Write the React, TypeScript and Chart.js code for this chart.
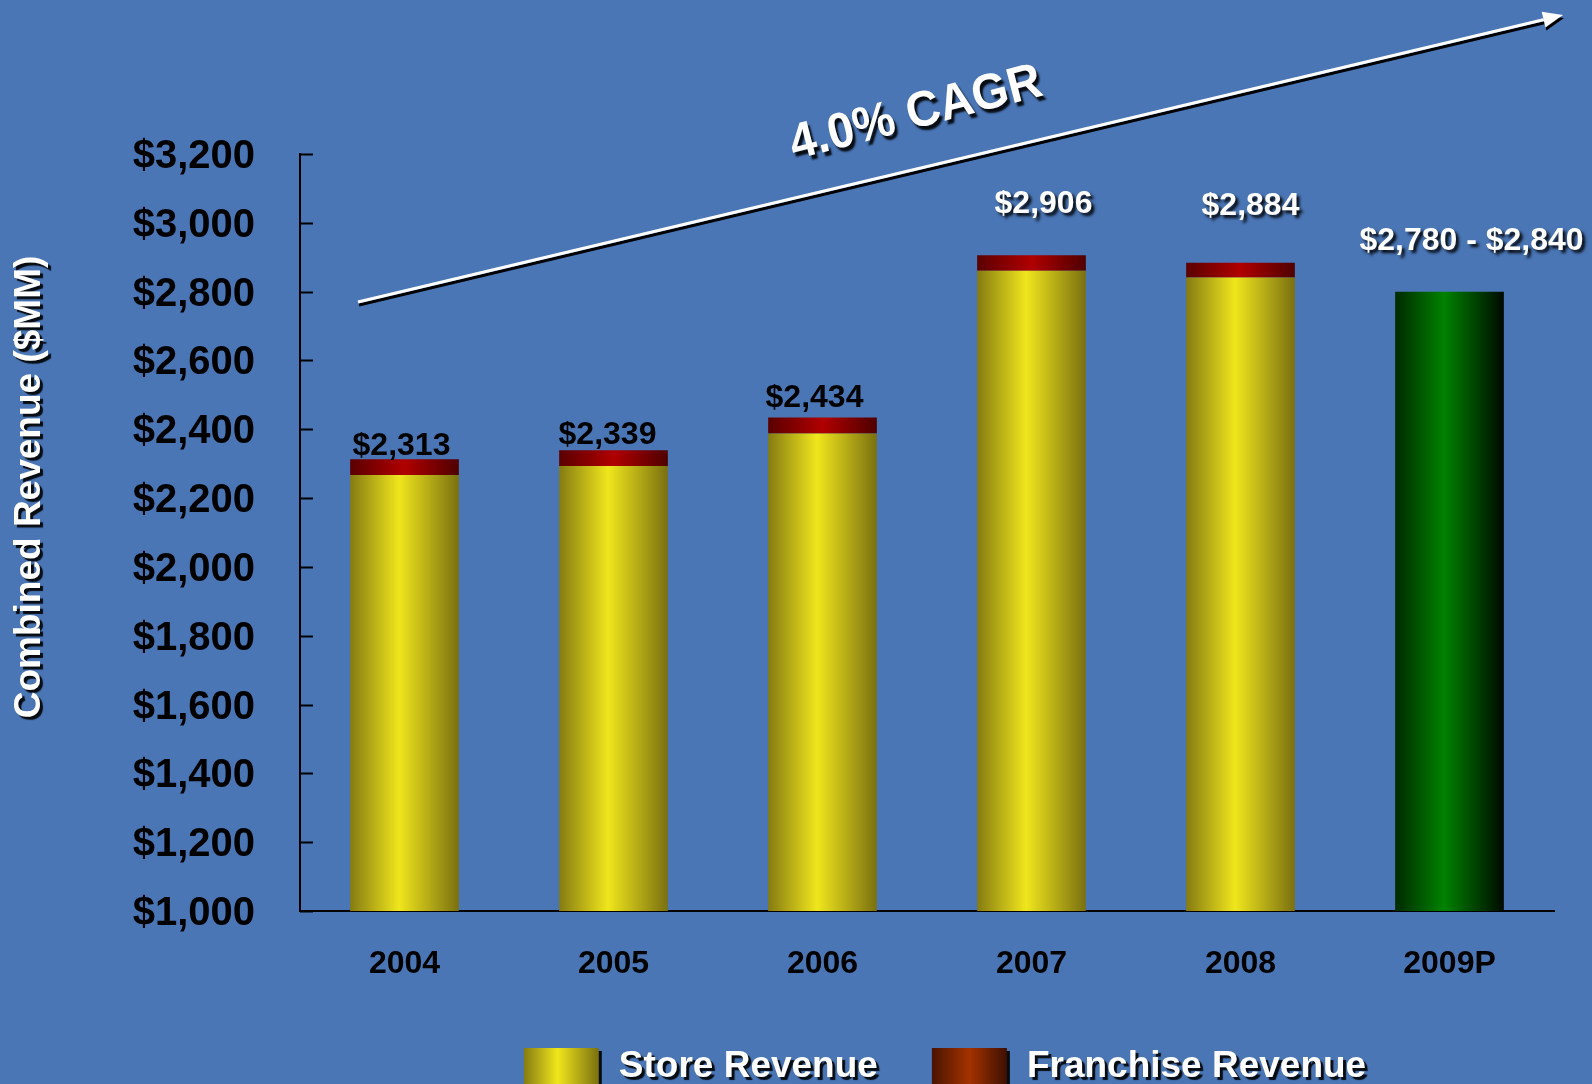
import { useEffect, useRef } from "react";
import { Chart, registerables } from "chart.js";

Chart.register(...registerables);

// ---- data ----
const categories = ["2004", "2005", "2006", "2007", "2008", "2009P"];
const storeRevenue = [2267, 2293, 2388, 2861, 2841, null];
const franchiseRevenue = [46, 46, 46, 45, 43, null];
const projectedRevenue = [null, null, null, null, null, 2800];
const totalLabels = ["$2,313", "$2,339", "$2,434", "$2,906", "$2,884", "$2,780 - $2,840"];
const yMin = 1000;
const yMax = 3200;
const yStep = 200;
const seriesNames = ["Store Revenue", "Franchise Revenue", "2009P Projection"];
const yTitle = "Combined Revenue ($MM)";
const cagrText = "4.0% CAGR";

// ---- styles ----
const FONT = "'Liberation Sans', Arial, Helvetica, sans-serif";
const BG = "#4a76b6";
const labelDx = [-3, -6, -8, 12, 10, 22];
const labelGap = [4, 6, 11, 42, 48, 42];
const labelWhite = [false, false, false, true, true, true];
const BAR_PCT = 0.52;

const yellowStops: [number, string][] = [[0, "#857b12"], [0.45, "#f0e61c"], [1, "#7a7010"]];
const redStops: [number, string][] = [[0, "#5a0000"], [0.5, "#b00000"], [1, "#4e0000"]];
const greenStops: [number, string][] = [[0, "#002a00"], [0.45, "#008200"], [1, "#000a00"]];
const legendFranchiseStops: [number, string][] = [[0, "#4a1400"], [0.5, "#a33200"], [1, "#3e1000"]];

function barGradient(stops: [number, string][]) {
  return (ctx: any) => {
    const chart = ctx.chart;
    const xs = chart.scales && chart.scales.x;
    if (!xs || ctx.type !== "data" || !chart.chartArea) return stops[1][1];
    const cx = xs.getPixelForValue(ctx.dataIndex);
    const w = (xs.width / categories.length) * BAR_PCT;
    const g = chart.ctx.createLinearGradient(cx - w / 2, 0, cx + w / 2, 0);
    stops.forEach(([o, c]) => g.addColorStop(o, c));
    return g;
  };
}

function shadowed(c: CanvasRenderingContext2D, draw: () => void, ox = 3, oy = 3, blur = 2, alpha = 0.9) {
  c.save();
  c.shadowColor = `rgba(0,0,0,${alpha})`;
  c.shadowOffsetX = ox;
  c.shadowOffsetY = oy;
  c.shadowBlur = blur;
  draw();
  c.restore();
}

const innerTicksPlugin = {
  id: "innerTicks",
  afterDraw(chart: any) {
    const c = chart.ctx as CanvasRenderingContext2D;
    const ys = chart.scales.y;
    const left = chart.chartArea.left;
    c.save();
    c.strokeStyle = "#000";
    c.lineWidth = 2;
    ys.ticks.forEach((_t: any, i: number) => {
      const y = Math.round(ys.getPixelForTick(i)) + 0.5;
      c.beginPath();
      c.moveTo(left, y);
      c.lineTo(left + 13, y);
      c.stroke();
    });
    c.restore();
  },
};

const decorPlugin = {
  id: "decor",
  afterDraw(chart: any) {
    const c = chart.ctx as CanvasRenderingContext2D;
    const { left, right, top } = chart.chartArea;
    const xs = chart.scales.x;
    const ys = chart.scales.y;

    // value labels
    c.save();
    c.font = `bold 32px ${FONT}`;
    c.textAlign = "center";
    c.textBaseline = "alphabetic";
    categories.forEach((_cat, i) => {
      const total =
        projectedRevenue[i] != null
          ? (projectedRevenue[i] as number)
          : (storeRevenue[i] as number) + (franchiseRevenue[i] as number);
      const x = xs.getPixelForValue(i) + labelDx[i];
      const y = ys.getPixelForValue(total) - labelGap[i];
      if (labelWhite[i]) {
        shadowed(c, () => {
          c.fillStyle = "#ffffff";
          c.fillText(totalLabels[i], x, y);
        }, 3, 3, 3);
      } else {
        c.fillStyle = "#000000";
        c.fillText(totalLabels[i], x, y);
      }
    });
    c.restore();

    // y-axis title
    c.save();
    c.font = `bold 37px ${FONT}`;
    c.textAlign = "center";
    c.textBaseline = "middle";
    shadowed(c, () => {
      c.translate(30, top + 333);
      c.rotate(-Math.PI / 2);
      c.fillStyle = "#ffffff";
      c.fillText(yTitle, 0, 0);
    }, 3, 3, 1);
    c.restore();

    // CAGR arrow
    const sx = left + 58, sy = top + 148;
    const ex = right + 9, ey = top - 139;
    const ang = Math.atan2(ey - sy, ex - sx);
    const headLen = 20, headW = 8;
    const bx = ex - headLen * Math.cos(ang), by = ey - headLen * Math.sin(ang);
    shadowed(c, () => {
      c.strokeStyle = "#ffffff";
      c.fillStyle = "#ffffff";
      c.lineWidth = 3;
      c.beginPath();
      c.moveTo(sx, sy);
      c.lineTo(bx + 2 * Math.cos(ang), by + 2 * Math.sin(ang));
      c.stroke();
      c.beginPath();
      c.moveTo(ex, ey);
      c.lineTo(bx + headW * Math.sin(ang), by - headW * Math.cos(ang));
      c.lineTo(bx - headW * Math.sin(ang), by + headW * Math.cos(ang));
      c.closePath();
      c.fill();
    }, 1, 3, 0, 1);

    // CAGR text
    c.save();
    c.font = `bold 50px ${FONT}`;
    c.textAlign = "center";
    c.textBaseline = "middle";
    shadowed(c, () => {
      c.translate(left + 616, top - 40);
      c.rotate(ang - 0.02);
      c.scale(0.94, 1);
      c.fillStyle = "#ffffff";
      c.fillText(cagrText, 0, 0);
    }, 3, 4, 2);
    c.restore();

    // legend
    c.save();
    c.font = `bold 37px ${FONT}`;
    c.textAlign = "left";
    c.textBaseline = "alphabetic";
    const swW = 75, swH = 40, gapT = 20, gapItem = 54;
    const w1 = c.measureText(seriesNames[0]).width;
    const w2 = c.measureText(seriesNames[1]).width;
    const total = swW + gapT + w1 + gapItem + swW + gapT + w2;
    let x = (left + right) / 2 + 18 - total / 2;
    const swTop = 1048;
    const baseY = 1077;
    const items: [string, [number, string][], number][] = [
      [seriesNames[0], yellowStops, w1],
      [seriesNames[1], legendFranchiseStops, w2],
    ];
    items.forEach(([name, stops, w]) => {
      const g = c.createLinearGradient(x, 0, x + swW, 0);
      stops.forEach(([o, col]) => g.addColorStop(o, col));
      shadowed(c, () => {
        c.fillStyle = g;
        c.fillRect(x, swTop, swW, swH);
      }, 3, 3, 0);
      x += swW + gapT;
      shadowed(c, () => {
        c.fillStyle = "#ffffff";
        c.fillText(name, x, baseY);
      }, 3, 3, 1);
      x += w + gapItem;
    });
    c.restore();
  },
};

export default function App() {
  const ref = useRef<HTMLCanvasElement | null>(null);

  useEffect(() => {
    document.body.style.margin = "0";
    const canvas = ref.current;
    if (!canvas) return;
    const chart = new Chart(canvas, {
      type: "bar",
      data: {
        labels: categories,
        datasets: [
          {
            label: seriesNames[0],
            data: storeRevenue as any,
            backgroundColor: barGradient(yellowStops) as any,
            borderWidth: 0,
            stack: "s",
          },
          {
            label: seriesNames[1],
            data: franchiseRevenue as any,
            backgroundColor: barGradient(redStops) as any,
            borderWidth: 0,
            stack: "s",
          },
          {
            label: seriesNames[2],
            data: projectedRevenue as any,
            backgroundColor: barGradient(greenStops) as any,
            borderWidth: 0,
            stack: "s",
          },
        ],
      },
      options: {
        responsive: false,
        animation: false,
        devicePixelRatio: 1,
        events: [],
        layout: { padding: { left: 0, right: 38, top: 154, bottom: 0 } },
        datasets: { bar: { categoryPercentage: 1, barPercentage: BAR_PCT } },
        plugins: {
          legend: { display: false },
          tooltip: { enabled: false },
          title: { display: false },
        },
        scales: {
          x: {
            stacked: true,
            grid: { display: false, drawTicks: false },
            border: { display: true, color: "#000", width: 2 },
            ticks: {
              color: "#000",
              font: { family: FONT, size: 32, weight: "bold" },
              padding: 34,
            },
            afterFit(scale: any) {
              scale.height = 173;
            },
          },
          y: {
            stacked: true,
            min: yMin,
            max: yMax,
            grid: { display: false, drawTicks: false },
            border: { display: true, color: "#000", width: 2 },
            ticks: {
              stepSize: yStep,
              color: "#000",
              font: { family: FONT, size: 40, weight: "bold" },
              padding: 45,
              labelOffset: 3,
              callback: (v: any) => "$" + Number(v).toLocaleString("en-US"),
            },
            afterFit(scale: any) {
              scale.width = 300;
            },
          },
        },
      },
      plugins: [innerTicksPlugin, decorPlugin],
    });
    return () => chart.destroy();
  }, []);

  return (
    <div style={{ width: 1592, height: 1084, background: BG, position: "relative", overflow: "hidden" }}>
      <canvas ref={ref} width={1592} height={1084} style={{ display: "block", width: 1592, height: 1084 }} />
    </div>
  );
}
